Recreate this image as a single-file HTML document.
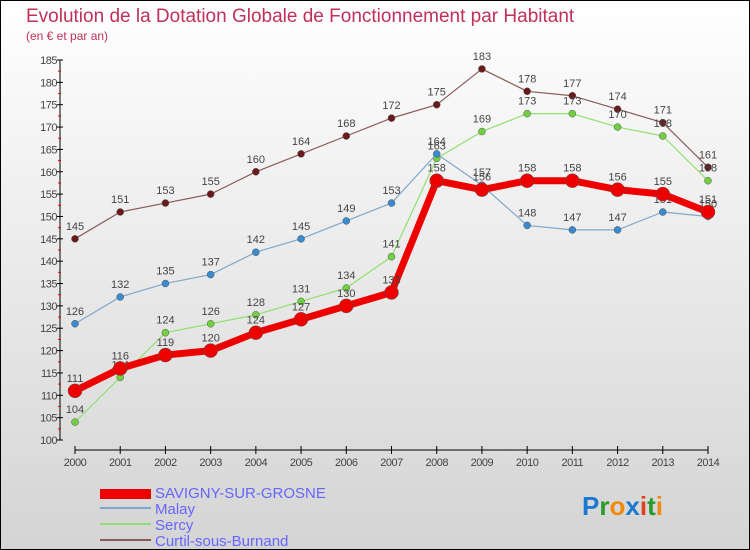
<!DOCTYPE html>
<html><head><meta charset="utf-8"><style>
body{margin:0;}
#wrap{width:750px;height:550px;position:relative;box-sizing:border-box;border:1px solid #000;background:linear-gradient(#ffffff,#d4d4d4);font-family:"Liberation Sans",sans-serif;overflow:hidden}
</style></head><body>
<div id="wrap">
<svg id="chart" width="750" height="550" style="position:absolute;left:-1px;top:-1px">
<text x="26" y="22" font-size="19" fill="#c0305a">Evolution de la Dotation Globale de Fonctionnement par Habitant</text>
<text x="26" y="40" font-size="12" fill="#c0305a">(en € et par an)</text>
<g id="axes"></g><g id="series"></g>
<g font-size="15" fill="#6666ff">
<rect x="100" y="489" width="51" height="10" fill="#e00"/>
<text x="155" y="498">SAVIGNY-SUR-GROSNE</text>
<rect x="100" y="507" width="51" height="2" fill="#7fa8cc"/>
<text x="155" y="514">Malay</text>
<rect x="100" y="523" width="51" height="2" fill="#90e070"/>
<text x="155" y="530">Sercy</text>
<rect x="100" y="539" width="51" height="2" fill="#8a5a5a"/>
<text x="155" y="546">Curtil-sous-Burnand</text>
</g>
<text x="582" y="515" font-size="26" font-weight="bold"><tspan fill="#1a7ad0">P</tspan><tspan fill="#2a9a2a">r</tspan><tspan fill="#f08a10">o</tspan><tspan fill="#1a7ad0">x</tspan><tspan fill="#e04020">i</tspan><tspan fill="#2a9a2a">t</tspan><tspan fill="#f08a10">i</tspan></text>
</svg>
</div>
<script>
const years=[2000,2001,2002,2003,2004,2005,2006,2007,2008,2009,2010,2011,2012,2013,2014];
const savigny=[111,116,119,120,124,127,130,133,158,156,158,158,156,155,151];
const malay=[126,132,135,137,142,145,149,153,164,157,148,147,147,151,150];
const sercy=[104,114,124,126,128,131,134,141,163,169,173,173,170,168,158];
const curtil=[145,151,153,155,160,164,168,172,175,183,178,177,174,171,161];
const yTicks=[100,105,110,115,120,125,130,135,140,145,150,155,160,165,170,175,180,185];
const NS="http://www.w3.org/2000/svg";
const X=i=>75+i*(708-75)/(years.length-1);
const Y=v=>440-(v-100)*(380/85);
function mk(t,a,p){const e=document.createElementNS(NS,t);for(const k in a)e.setAttribute(k,a[k]);p.appendChild(e);return e;}
const ax=document.getElementById('axes');
let l=mk('line',{x1:60,y1:Y(185),x2:60,y2:440,stroke:'#000'},ax);


l=mk('line',{x1:75,y1:450,x2:708,y2:450,stroke:'#000'},ax);


yTicks.forEach(v=>{
 mk('line',{x1:57,x2:63,y1:Y(v),y2:Y(v),stroke:'#000'},ax);
 if(v<185)mk('line',{x1:58,x2:61,y1:Y(v+2.5),y2:Y(v+2.5),stroke:'#e00'},ax);
 const t=mk('text',{x:57,y:Y(v)+4,'font-size':11,'text-anchor':'end',fill:'#444','letter-spacing':'-0.5'},ax);
 t.textContent=v;
 
 
});
years.forEach((y,i)=>{
 mk('line',{x1:X(i),x2:X(i),y1:446,y2:454,stroke:'#000'},ax);
 const t=mk('text',{x:X(i),y:466,'font-size':11,'text-anchor':'middle',fill:'#444','letter-spacing':'-0.5'},ax);
 t.textContent=y;
 
 
});
const sg=document.getElementById('series');
function draw(data,color,dot,w,r,name){
 const g=mk('g',{},sg);
 
 
 mk('polyline',{points:data.map((v,i)=>X(i)+','+Y(v)).join(' '),fill:'none',stroke:color,'stroke-width':w,'stroke-linejoin':'round'},g);
 data.forEach((v,i)=>{
  const c=mk('circle',{cx:X(i),cy:Y(v),r:r,fill:dot,stroke:'#555','stroke-width':0.5},g);
  
  
  const t=mk('text',{x:X(i),y:Y(v)-9,'font-size':11,'text-anchor':'middle',fill:'#444'},g);
  t.textContent=v;
  
  
 });
}
draw(curtil,'#8a5a5a','#6a1a1a',1.2,3.5,'curtil');
draw(sercy,'#90e070','#70d040',1.2,3.5,'sercy');
draw(malay,'#7fa8cc','#3a8ad0',1.2,3.5,'malay');
draw(savigny,'#e00','#e00',7,7,'savigny');
</script>
</body></html>
